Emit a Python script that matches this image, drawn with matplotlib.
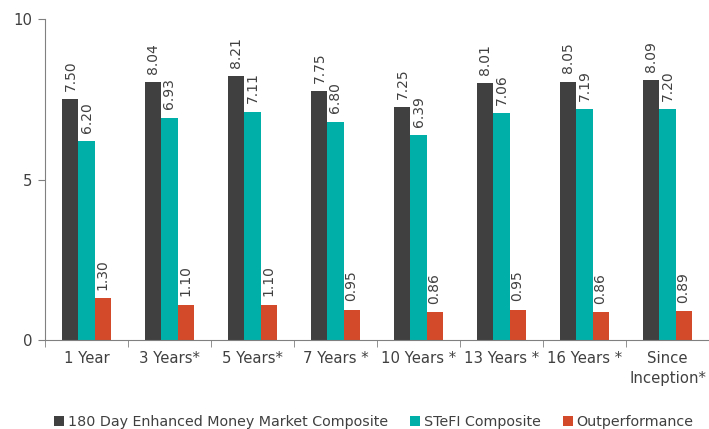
import matplotlib
matplotlib.use("Agg")
import matplotlib.pyplot as plt
import numpy as np

categories = ["1 Year", "3 Years*", "5 Years*", "7 Years *", "10 Years *",
              "13 Years *", "16 Years *", "Since\nInception*"]
composite = [7.50, 8.04, 8.21, 7.75, 7.25, 8.01, 8.05, 8.09]
stefi = [6.20, 6.93, 7.11, 6.80, 6.39, 7.06, 7.19, 7.20]
outperf = [1.30, 1.10, 1.10, 0.95, 0.86, 0.95, 0.86, 0.89]
series_names = ["180 Day Enhanced Money Market Composite", "STeFI Composite", "Outperformance"]
colors = ["#404040", "#00b0a8", "#d34a2a"]
yticks = [0, 5, 10]

txt = "#404040"
plt.rcParams['font.family'] = ['DejaVu Sans']
fig = plt.figure(figsize=(7.09, 4.29), dpi=100)
ax = fig.add_axes([45/709, 1-340/429, (709-45)/709, (340-19)/429])

x = np.arange(len(categories))
w = 0.193
for i, (vals, name, c) in enumerate(zip([composite, stefi, outperf], series_names, colors)):
    bars = ax.bar(x + (i-1)*w, vals, w, color=c, label=name)
    for b, v in zip(bars, vals):
        ax.annotate(f"{v:.2f}", (b.get_x()+b.get_width()/2, v), xytext=(0, 6),
                    textcoords="offset points", rotation=90, ha="center", va="bottom",
                    fontsize=10, color=txt)

ax.set_xlim(-0.5, len(categories)-0.5)
ax.set_ylim(0, 10)
ax.set_yticks(yticks)
ax.set_xticks(x)
ax.set_xticklabels(categories, fontsize=10.7, color=txt, linespacing=1.4)
ax.set_xticks(np.arange(len(categories)+1)-0.5, minor=True)
ax.tick_params(axis='x', which='major', length=0, pad=8)
ax.tick_params(axis='x', which='minor', length=5, color="#808080")
ax.tick_params(axis='y', length=5, color="#808080", labelsize=10.7, labelcolor=txt, pad=4)
for s in ["top", "right"]:
    ax.spines[s].set_visible(False)
for s in ["left", "bottom"]:
    ax.spines[s].set_color("#808080")

fig.legend(loc="lower center", bbox_to_anchor=(0.527, -0.03), ncol=3, frameon=False,
           fontsize=10.3, handlelength=0.7, handleheight=0.7, handletextpad=0.25,
           columnspacing=1.55, labelcolor=txt)
fig.savefig("out.png", dpi=100)
